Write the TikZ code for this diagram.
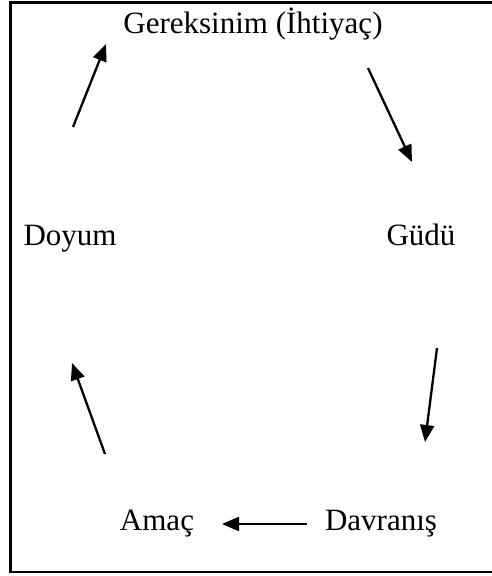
\documentclass[tikz,border=0pt]{standalone}
\usepackage{fontspec}
\setmainfont{Liberation Serif}
\usetikzlibrary{arrows.meta}
\begin{document}
\begin{tikzpicture}[x=1pt,y=-1pt,
  lbl/.style={anchor=base,inner sep=0pt,font=\fontsize{31}{37}\selectfont},
  arr/.style={line width=2.3pt,-{Triangle[length=17pt,width=14pt]}},
  frame/.style={line width=2.6pt}]
\useasboundingbox (0,0) rectangle (491,576);
\draw[frame] (493,2.5) -- (10.5,2.5) -- (10.5,572) -- (493,572);
\node[lbl] (ger) at (253,33) {Gereksinim (İhtiyaç)};
\node[lbl] (doy) at (70,245) {Doyum};
\node[lbl] (gud) at (421,245) {Güdü};
\node[lbl] (ama) at (157,530) {Amaç};
\node[lbl] (dav) at (381,530) {Davranış};
\coordinate (a1s) at (73,127);  \coordinate (a1e) at (106,44);
\coordinate (a2s) at (368,68);  \coordinate (a2e) at (412,162);
\coordinate (a3s) at (437,348); \coordinate (a3e) at (425,442);
\coordinate (a4s) at (307,524); \coordinate (a4e) at (222,524);
\coordinate (a5s) at (105,454); \coordinate (a5e) at (72,363);
\draw[arr] (a1s) -- (a1e);
\draw[arr] (a2s) -- (a2e);
\draw[arr] (a3s) -- (a3e);
\draw[arr] (a4s) -- (a4e);
\draw[arr] (a5s) -- (a5e);
\end{tikzpicture}
\end{document}
